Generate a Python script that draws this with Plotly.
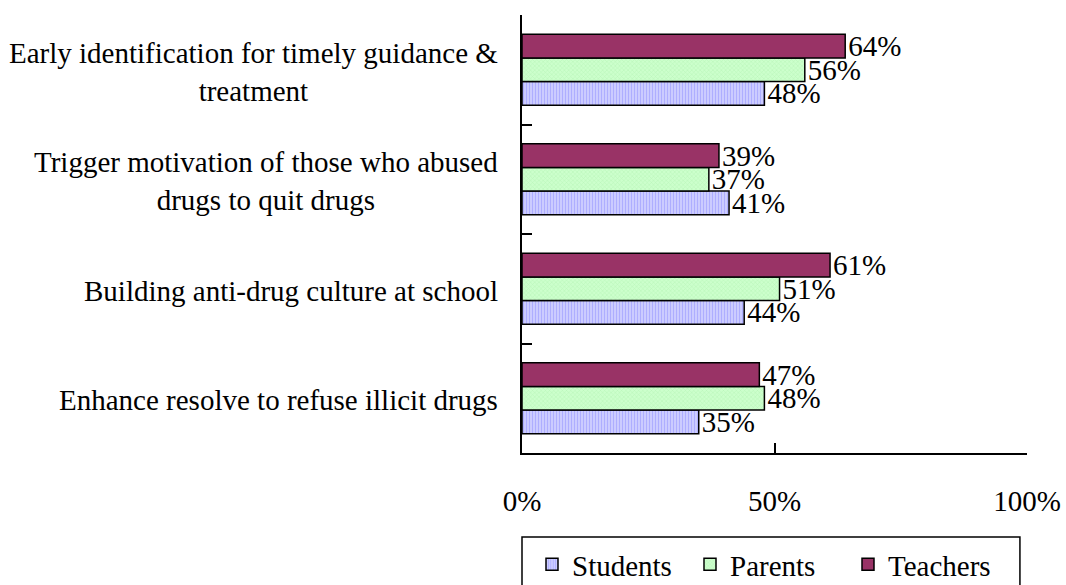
import plotly.graph_objects as go

categories = [
    "Early identification for timely guidance &<br>treatment",
    "Trigger motivation of those who abused<br>drugs to quit drugs",
    "Building anti-drug culture at school",
    "Enhance resolve to refuse illicit drugs",
]
students = [0.48, 0.41, 0.44, 0.35]
parents = [0.56, 0.37, 0.51, 0.48]
teachers = [0.64, 0.39, 0.61, 0.47]
x_tickvals = [0, 0.5, 1.0]
x_ticktext = ["0%", "50%", "100%"]

FONT = "Liberation Serif"
FS = 29

fig = go.Figure()
series = [
    ("Students", students, dict(color="#ccccff", line=dict(color="black", width=1.5),
                                pattern=dict(shape="|", bgcolor="#ccccff", fgcolor="#8f8fff",
                                             size=3, solidity=0.35, fillmode="overlay"))),
    ("Parents", parents, dict(color="#ccffcc", line=dict(color="black", width=1.5),
                              pattern=dict(shape="x", bgcolor="#ccffcc", fgcolor="#a0e8a0",
                                           size=3, solidity=0.3, fillmode="overlay"))),
    ("Teachers", teachers, dict(color="#993366", line=dict(color="black", width=1.5))),
]
for name, vals, marker in series:
    fig.add_trace(go.Bar(
        name=name, y=categories, x=vals, orientation="h", marker=marker,
        text=[f"{round(v*100)}%" for v in vals], textposition="outside",
        textfont=dict(family=FONT, size=FS, color="black"),
        cliponaxis=False, constraintext="none",
    ))

for c in categories:
    fig.add_annotation(
        x=0, xref="paper", y=c, yref="y", text=c, showarrow=False,
        xanchor="right", yanchor="middle", align="center", xshift=-22, yshift=-2,
        font=dict(family=FONT, size=FS, color="black"),
    )

# legend frame (extends past the bottom edge like the reference)
fig.add_shape(type="rect", xref="paper", yref="paper",
              x0=0, x1=0.986, y0=-0.192, y1=-0.35,
              line=dict(color="black", width=1.5), fillcolor="rgba(0,0,0,0)")

fig.update_layout(
    width=1066, height=585,
    margin=dict(l=522, r=39, t=15, b=132, autoexpand=False),
    paper_bgcolor="white", plot_bgcolor="white",
    barmode="group", bargap=0.35, bargroupgap=0,
    font=dict(family=FONT, size=FS, color="black"),
    showlegend=True,
    legend=dict(
        orientation="h", x=0.0198, xanchor="left", y=-0.196, yanchor="top",
        borderwidth=0, bgcolor="rgba(0,0,0,0)",
        font=dict(family=FONT, size=FS, color="black"),
        entrywidth=113, traceorder="normal",
    ),
)
fig.update_xaxes(
    range=[0, 1], tickvals=x_tickvals, ticktext=x_ticktext,
    showline=True, linecolor="black", linewidth=1.5,
    ticks="inside", ticklen=10, tickwidth=1.5, tickcolor="black",
    showgrid=False, zeroline=False, ticklabelstandoff=21, automargin=False,
    tickfont=dict(family=FONT, size=FS, color="black"),
)
fig.update_yaxes(
    categoryorder="array", categoryarray=categories[::-1],
    showline=True, linecolor="black", linewidth=1.5,
    ticks="inside", tickson="boundaries", ticklen=10, tickwidth=1.5, tickcolor="black",
    showticklabels=False, showgrid=False, zeroline=False, automargin=False,
)

fig.write_html("out.html")
